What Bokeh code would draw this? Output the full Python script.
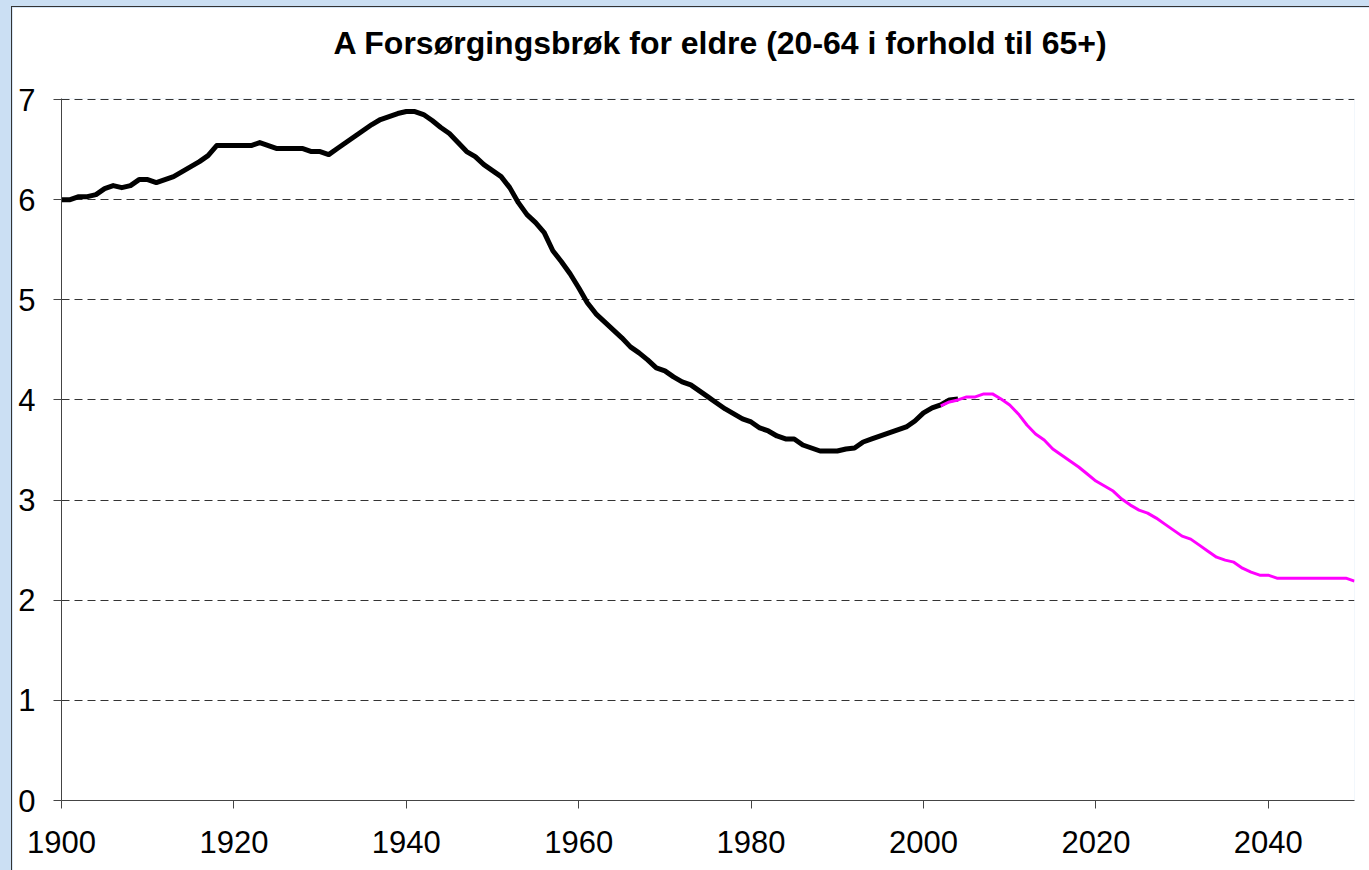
from bokeh.plotting import figure
from bokeh.models import Range1d, FixedTicker, GlobalInlineStyleSheet, Title
from bokeh.embed import file_html
from bokeh.resources import INLINE

title_text = "A Forsørgingsbrøk for eldre (20-64 i forhold til 65+)"

x_ticks = [1900, 1920, 1940, 1960, 1980, 2000, 2020, 2040]
y_ticks = [0, 1, 2, 3, 4, 5, 6, 7]

years_hist = list(range(1900, 2005))
ratio_hist = [
    6.00, 6.00, 6.03, 6.03, 6.05, 6.11, 6.14, 6.12, 6.14, 6.20,   # 1900-1909
    6.20, 6.17, 6.20, 6.23, 6.28, 6.33, 6.38, 6.44, 6.54, 6.54,   # 1910-1919
    6.54, 6.54, 6.54, 6.57, 6.54, 6.51, 6.51, 6.51, 6.51, 6.48,   # 1920-1929
    6.48, 6.45, 6.51, 6.57, 6.63, 6.69, 6.75, 6.80, 6.83, 6.86,   # 1930-1939
    6.88, 6.88, 6.85, 6.79, 6.72, 6.66, 6.57, 6.48, 6.43, 6.35,   # 1940-1949
    6.29, 6.23, 6.12, 5.97, 5.85, 5.77, 5.67, 5.49, 5.38, 5.26,   # 1950-1959
    5.12, 4.97, 4.86, 4.78, 4.70, 4.62, 4.53, 4.47, 4.40, 4.32,   # 1960-1969
    4.29, 4.23, 4.18, 4.15, 4.09, 4.03, 3.97, 3.91, 3.86, 3.81,   # 1970-1979
    3.78, 3.72, 3.69, 3.64, 3.61, 3.61, 3.55, 3.52, 3.49, 3.49,   # 1980-1989
    3.49, 3.51, 3.52, 3.58, 3.61, 3.64, 3.67, 3.70, 3.73, 3.79,   # 1990-1999
    3.87, 3.92, 3.95, 4.00, 4.01,                                 # 2000-2004
]

years_proj = list(range(2002, 2051))
ratio_proj = [
    3.94, 3.98, 4.00, 4.03, 4.03, 4.06, 4.06, 4.01,               # 2002-2009
    3.95, 3.86, 3.75, 3.66, 3.60, 3.51, 3.45, 3.39, 3.33, 3.26,   # 2010-2019
    3.19, 3.14, 3.09, 3.01, 2.95, 2.90, 2.87, 2.82, 2.76, 2.70,   # 2020-2029
    2.64, 2.61, 2.55, 2.49, 2.43, 2.40, 2.38, 2.32, 2.28, 2.25,   # 2030-2039
    2.25, 2.22, 2.22, 2.22, 2.22, 2.22, 2.22, 2.22, 2.22, 2.22,   # 2040-2049
    2.19,                                                         # 2050
]

FONT = "Liberation Sans"

p = figure(
    width=1357, height=863,
    output_backend="svg", toolbar_location=None,
    x_range=Range1d(1900, 2050), y_range=Range1d(0, 7.01),
    min_border_left=49, min_border_right=15,
    min_border_top=91, min_border_bottom=70,
    background_fill_color="white", border_fill_color="white",
    outline_line_color=None,
    title=title_text,
)

p.stylesheets = [GlobalInlineStyleSheet(css="html,body{background:#cbdff3;margin:0;}")]
p.margin = (7, 0, 0, 12)
p.styles = {"outline": "1px solid #333333"}

p.title.text_font = FONT
p.title.text_font_size = "32px"
p.title.text_font_style = "bold"
p.title.text_color = "black"
p.title.align = "left"
p.title.offset = 272
p.title.standoff = 0

# empty spacer panel between the title and the plot frame
spacer = Title(text=" ", text_font=FONT, text_font_size="32px", standoff=0)
p.add_layout(spacer, "above")

p.xaxis.ticker = FixedTicker(ticks=x_ticks)
p.yaxis.ticker = FixedTicker(ticks=y_ticks)
for ax in (p.xaxis, p.yaxis):
    ax.major_tick_out = 8
    ax.major_tick_in = 0
    ax.minor_tick_out = 0
    ax.minor_tick_in = 0
    ax.axis_line_color = "#444444"
    ax.major_tick_line_color = "#444444"
    ax.major_label_text_font = FONT
    ax.major_label_text_font_size = "31px"
    ax.major_label_text_color = "black"
p.xaxis.major_label_standoff = 22
p.yaxis.major_label_standoff = 18

p.xgrid.visible = False
p.ygrid.grid_line_color = "#000000"
p.ygrid.grid_line_alpha = 0.8
p.ygrid.grid_line_width = 1
p.ygrid.grid_line_dash = "8 5"

p.line(years_hist, ratio_hist, line_color="black", line_width=5, line_join="round")
p.line(years_proj, ratio_proj, line_color="#FF00FF", line_width=3, line_join="round")

open("out.html", "w").write(file_html(p, INLINE))
